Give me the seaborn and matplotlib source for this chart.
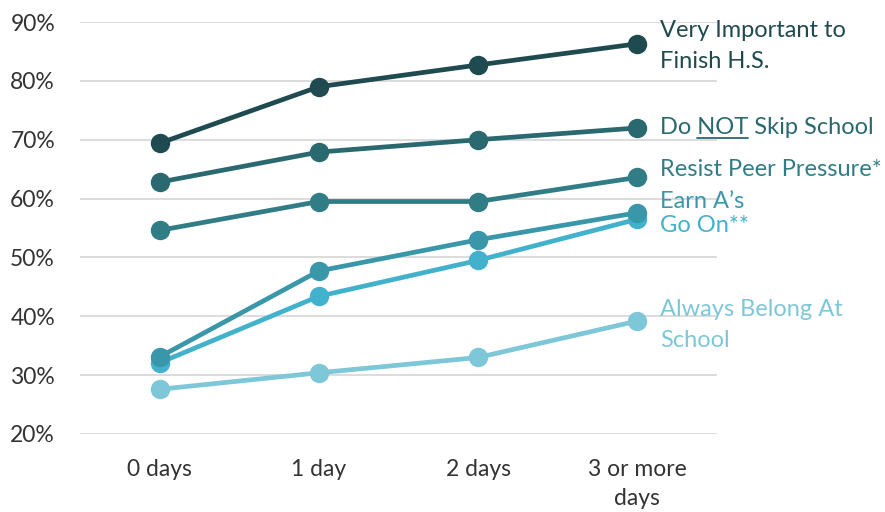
import matplotlib
matplotlib.use("Agg")
import matplotlib.pyplot as plt
import seaborn as sns
import pandas as pd
from matplotlib.lines import Line2D

categories = ["0 days", "1 day", "2 days", "3 or more\ndays"]
very_important = [69.4, 79.0, 82.7, 86.3]
do_not_skip = [62.8, 67.9, 70.0, 72.0]
resist_peer = [54.6, 59.5, 59.5, 63.6]
earn_as = [33.1, 47.7, 53.0, 57.6]
go_on = [32.1, 43.4, 49.5, 56.5]
always_belong = [27.6, 30.4, 33.0, 39.2]
y_ticks = [20, 30, 40, 50, 60, 70, 80, 90]

series_names = ["Very Important", "Do NOT Skip", "Resist Peer", "Earn A's", "Go On", "Always Belong"]
series_vals = [very_important, do_not_skip, resist_peer, earn_as, go_on, always_belong]
colors = ["#1E4A50", "#2A6970", "#317D85", "#3A97AA", "#42B1CC", "#7DC7D9"]

rows = []
for name, vals in zip(series_names, series_vals):
    for c, v in zip(categories, vals):
        rows.append({"cat": c, "val": v, "series": name})
df = pd.DataFrame(rows)

sns.set_theme(style="white")
plt.rcParams["font.family"] = ["Lato", "DejaVu Sans"]

W, H = 885, 512
fig = plt.figure(figsize=(W / 100, H / 100), dpi=100)
ax = fig.add_axes([80 / W, 1 - 434 / H, (717 - 80) / W, (434 - 22) / H])

sns.lineplot(data=df, x="cat", y="val", hue="series", hue_order=series_names[::-1],
             palette=dict(zip(series_names, colors)), marker="o", markersize=14,
             markeredgewidth=0, linewidth=3.4, ax=ax, legend=False, sort=False)

ax.set_xlim(-0.5, 3.5)
ax.set_ylim(20, 90)
ax.set_yticks(y_ticks)
ax.set_yticklabels([f"{t}%" for t in y_ticks])
ax.yaxis.grid(True, color="#D9D9D9", linewidth=1.3)
ax.set_axisbelow(True)
for s in ax.spines.values():
    s.set_visible(False)
ax.set_xlabel("")
ax.set_ylabel("")
ax.tick_params(axis="y", length=0, pad=18, labelsize=16.5, labelcolor="#333333")
ax.tick_params(axis="x", length=0, pad=18, labelsize=16.5, labelcolor="#333333")
for lab in ax.get_xticklabels():
    lab.set_linespacing(1.45)
    lab.set_verticalalignment("top")

label_specs = [
    ("Very Important to\nFinish H.S.", 46, colors[0]),
    ("Do NOT Skip School", 128, colors[1]),
    ("Resist Peer Pressure*", 170, colors[2]),
    ("Earn A’s", 201, colors[3]),
    ("Go On**", 226, colors[4]),
    ("Always Belong At\nSchool", 325, colors[5]),
]
FS = 17
lx = 660 / W
texts = []
for txt, py, col in label_specs:
    t = fig.text(lx, 1 - py / H, txt, color=col, fontsize=FS, va="center", ha="left",
                 linespacing=1.6)
    texts.append(t)

# underline "NOT"
fig.canvas.draw()
r = fig.canvas.get_renderer()
t_do = texts[1]
def width_of(s):
    tmp = fig.text(0, 0, s, fontsize=FS)
    w = tmp.get_window_extent(r).width
    tmp.remove()
    return w
x0 = t_do.get_window_extent(r).x0
w1 = width_of("Do ")
w2 = width_of("Do NOT")
bb = t_do.get_window_extent(r)
uy = bb.y0 + 1
fig.add_artist(Line2D([(x0 + w1) / W, (x0 + w2) / W], [uy / H, uy / H],
                      color=colors[1], linewidth=1.3, transform=fig.transFigure))

fig.savefig("out.png", dpi=100)
